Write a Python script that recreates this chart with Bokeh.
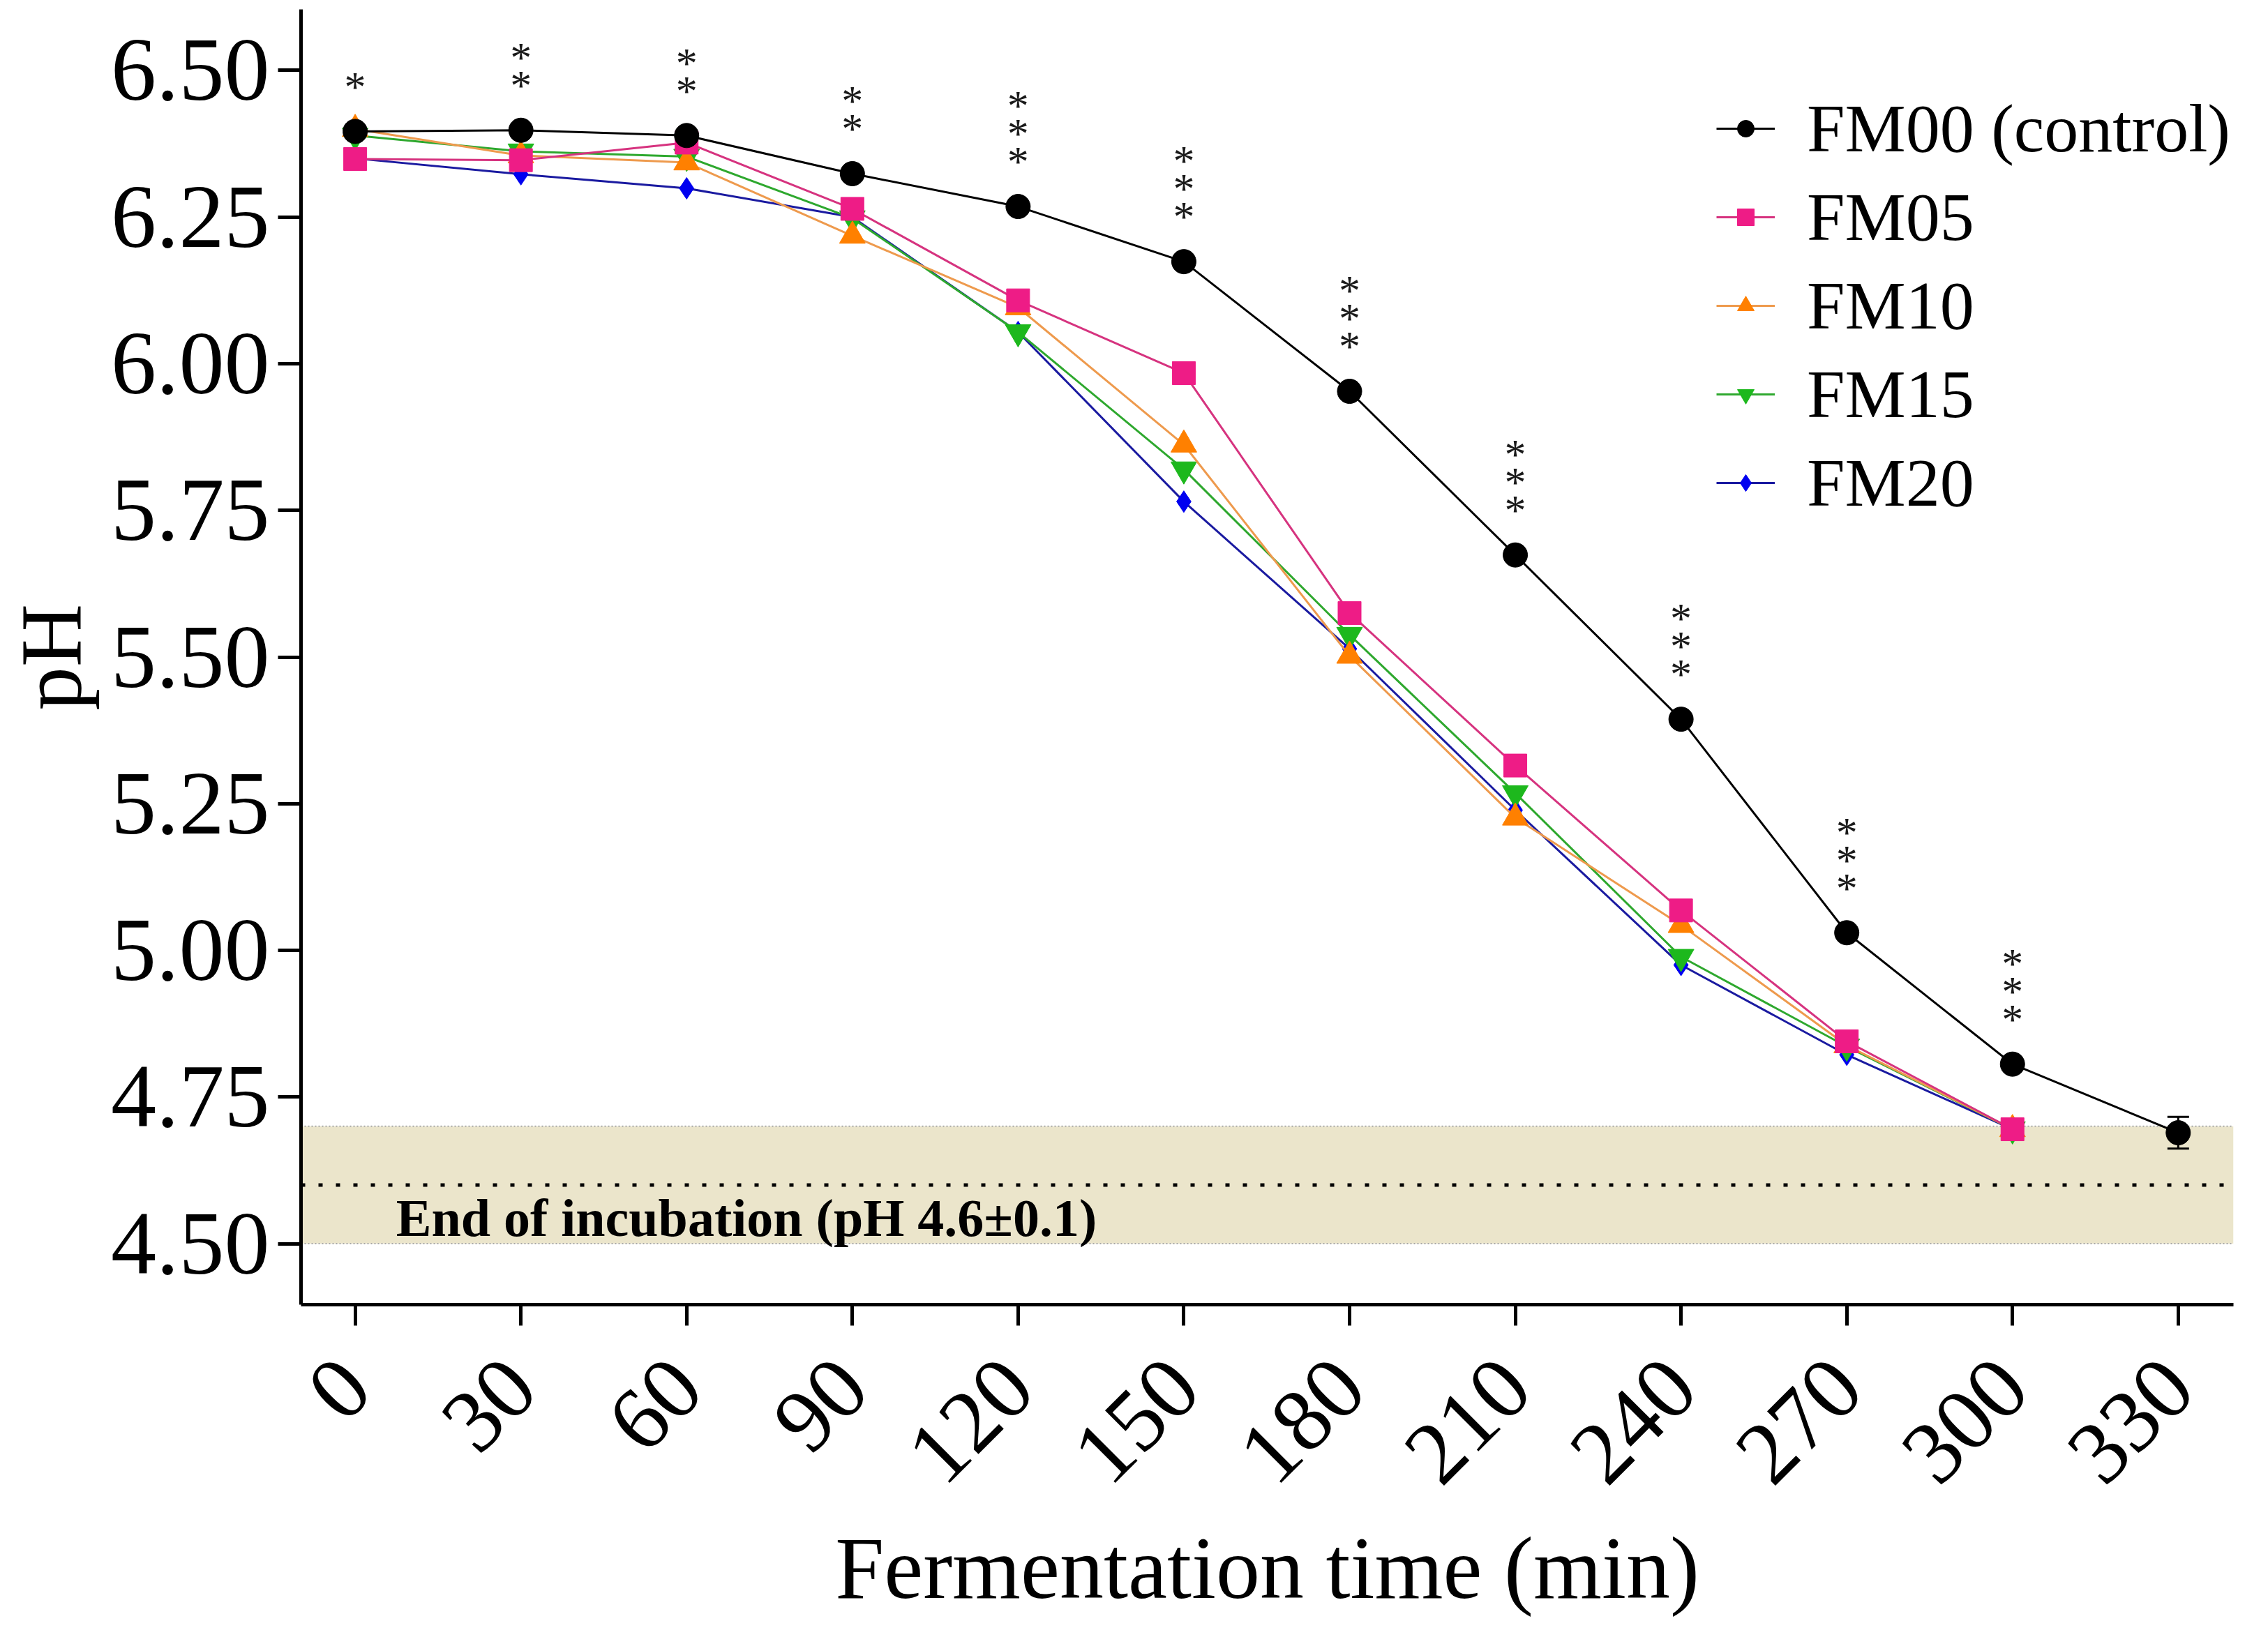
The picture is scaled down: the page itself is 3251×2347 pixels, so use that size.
import math
from bokeh.plotting import figure
from bokeh.models import (Range1d, FixedTicker, PrintfTickFormatter, BoxAnnotation, Span, Label,
                          Legend, LegendItem, ColumnDataSource, Whisker, TeeHead)
from bokeh.core.properties import value
from bokeh.embed import file_html
from bokeh.resources import INLINE

# ---------------- data ----------------
times = [0, 30, 60, 90, 120, 150, 180, 210, 240, 270, 300, 330]
fm00 = [6.396, 6.398, 6.389, 6.324, 6.268, 6.174, 5.953, 5.674, 5.394, 5.030, 4.806, 4.689]
fm00_err = [0, 0, 0, 0, 0, 0, 0, 0, 0, 0, 0, 0.027]
times_fm = [0, 30, 60, 90, 120, 150, 180, 210, 240, 270, 300]
fm05 = [6.349, 6.347, 6.377, 6.264, 6.108, 5.984, 5.575, 5.315, 5.068, 4.845, 4.695]
fm10 = [6.400, 6.355, 6.343, 6.218, 6.096, 5.862, 5.502, 5.226, 5.043, 4.838, 4.695]
fm15 = [6.389, 6.362, 6.353, 6.248, 6.054, 5.820, 5.538, 5.268, 4.989, 4.836, 4.695]
fm20 = [6.350, 6.323, 6.299, 6.250, 6.054, 5.765, 5.514, 5.239, 4.975, 4.822, 4.695]
sig_times = [0, 30, 60, 90, 120, 150, 180, 210, 240, 270, 300]
sig_stars = [1, 2, 2, 2, 3, 3, 3, 3, 3, 3, 3]
y_ticks = [4.50, 4.75, 5.00, 5.25, 5.50, 5.75, 6.00, 6.25, 6.50]
series_labels = ["FM00 (control)", "FM05", "FM10", "FM15", "FM20"]
band_low, band_mid, band_high = 4.5, 4.6, 4.7
band_text = "End of incubation (pH 4.6\u00b10.1)"

FONT = "Liberation Serif"

p = figure(width=3235, height=2331, x_range=Range1d(-9.8, 340), y_range=Range1d(4.396, 6.604),
           output_backend="svg", toolbar_location=None)
p.min_border_left = 424
p.min_border_right = 34
p.min_border_top = 13
p.min_border_bottom = 461
p.outline_line_color = None
p.xgrid.visible = False
p.ygrid.visible = False
p.background_fill_color = "white"
p.border_fill_color = "white"

# band
p.add_layout(BoxAnnotation(bottom=band_low, top=band_high, fill_color="#EBE5CB", fill_alpha=1.0,
                           line_color=None, level="underlay"))
for yv in (band_low, band_high):
    p.add_layout(Span(location=yv, dimension="width", line_color="#A8A8A8", line_width=2,
                      line_dash="2 3", level="underlay"))
p.add_layout(Span(location=band_mid, dimension="width", line_color="black", line_width=5,
                  line_dash="6 19", level="underlay"))
p.add_layout(Label(x=7.4, y=4.544, text=band_text, text_font=FONT, text_font_size="76px",
                   text_font_style="bold", text_color="black", text_baseline="alphabetic"))

# series (draw FM20 first so control is on top)
styles = {
    "FM20": dict(line="#1A1AA0", fill="#0000F0", marker="diamond", size=31),
    "FM15": dict(line="#2EA82E", fill="#1DB81D", marker="inverted_triangle", size=37),
    "FM10": dict(line="#EE9A4D", fill="#FF8000", marker="triangle", size=37),
    "FM05": dict(line="#D6337F", fill="#EE1C86", marker="square", size=33),
}
data_map = {"FM05": fm05, "FM10": fm10, "FM15": fm15, "FM20": fm20}
renderers = {}
for name in ["FM20", "FM15", "FM10", "FM05"]:
    st = styles[name]
    l = p.line(times_fm, data_map[name], line_color=st["line"], line_width=3)
    s = p.scatter(times_fm, data_map[name], marker=st["marker"], size=st["size"],
                  fill_color=st["fill"], line_color=st["fill"], line_width=1)
    renderers[name] = [l, s]

l0 = p.line(times, fm00, line_color="black", line_width=3)
err_src = ColumnDataSource(dict(
    x=[t for t, e in zip(times, fm00_err) if e > 0],
    upper=[v + e for v, e in zip(fm00, fm00_err) if e > 0],
    lower=[v - e for v, e in zip(fm00, fm00_err) if e > 0]))
p.add_layout(Whisker(base="x", upper="upper", lower="lower", source=err_src, dimension="height",
                     line_color="black", line_width=3,
                     upper_head=TeeHead(size=31, line_width=3, line_color="black"),
                     lower_head=TeeHead(size=31, line_width=3, line_color="black")))
s0 = p.scatter(times, fm00, marker="circle", size=35, fill_color="black", line_color="black")
renderers["FM00 (control)"] = [l0, s0]

# significance stars
star_offset = 0.077
star_step = 0.0475
sx, sy = [], []
for t, n in zip(sig_times, sig_stars):
    base = fm00[times.index(t)]
    for k in range(n):
        sx.append(t)
        sy.append(base + star_offset + k * star_step)
p.text(sx, sy, text=["*"] * len(sx), text_font=value(FONT), text_font_size="62px",
       text_align="center", text_baseline="middle", text_color="#1A1A1A")

# legend
items = [LegendItem(label=lab, renderers=renderers[lab]) for lab in series_labels]
legend = Legend(items=items, location=(2029, 1122), orientation="vertical",
                border_line_color=None, background_fill_alpha=0, padding=0, margin=0,
                glyph_width=84, glyph_height=60, label_standoff=46, spacing=15,
                label_text_font=FONT, label_text_font_size="98px", label_text_color="black",
                label_text_baseline="middle")
p.add_layout(legend)

# axes
for ax in (p.xaxis[0], p.yaxis[0]):
    ax.axis_line_width = 5
    ax.axis_line_color = "black"
    ax.major_tick_line_width = 5
    ax.major_tick_line_color = "black"
    ax.major_tick_in = 0
    ax.minor_tick_line_color = None
    ax.major_label_text_font = FONT
    ax.major_label_text_color = "black"
    ax.axis_label_text_font = FONT
    ax.axis_label_text_font_style = "normal"
    ax.axis_label_text_color = "black"

p.xaxis.ticker = FixedTicker(ticks=times)
p.xaxis.major_tick_out = 30
p.xaxis.major_label_orientation = math.pi / 4
p.xaxis.major_label_text_font_size = "128px"
p.xaxis.major_label_standoff = 68
p.xaxis.axis_label = "Fermentation time (min)"
p.xaxis.axis_label_text_font_size = "126px"
p.xaxis.axis_label_standoff = 12

p.yaxis.ticker = FixedTicker(ticks=y_ticks)
p.yaxis.formatter = PrintfTickFormatter(format="%.2f")
p.yaxis.major_label_text_font_size = "130px"
p.yaxis.major_tick_out = 33
p.yaxis.major_label_standoff = 12
p.yaxis.axis_label = "pH"
p.yaxis.axis_label_text_font_size = "125px"
p.yaxis.axis_label_standoff = 14

open("out.html", "w").write(file_html(p, INLINE))
